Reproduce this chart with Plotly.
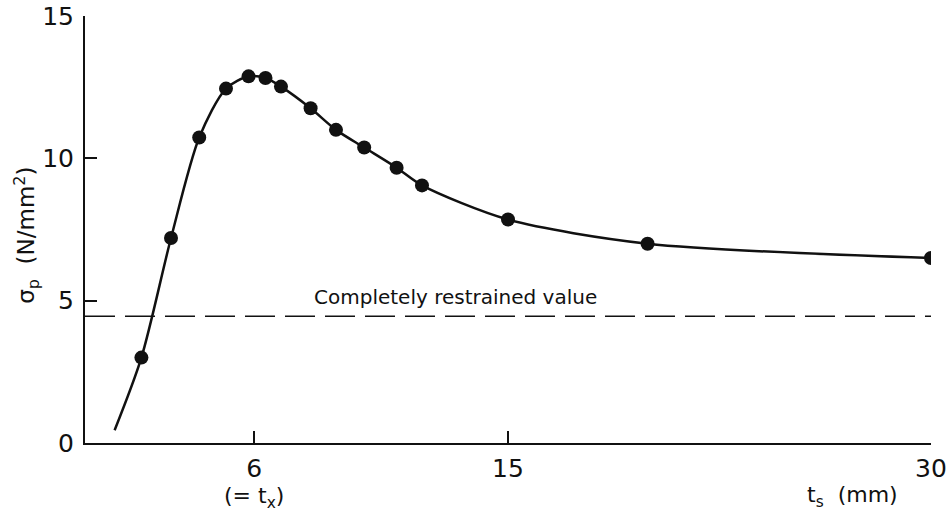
import plotly.graph_objects as go

# Data
ts_points = [2.0, 3.05, 4.05, 5.0, 5.8, 6.4, 6.95, 8.0, 8.9, 9.9, 11.05, 11.95, 15.0, 19.95, 30.0]
sigma_points = [3.0, 7.2, 10.73, 12.45, 12.88, 12.82, 12.52, 11.76, 11.0, 10.38, 9.67, 9.05, 7.85, 7.0, 6.5]

curve_start_ts = [1.05]
curve_start_sigma = [0.45]

restrained_value = 4.45
restrained_label = "Completely restrained value"

x_ticks = [6, 15, 30]
y_ticks = [0, 5, 10, 15]

FONT = "DejaVu Sans, sans-serif"
INK = "#111111"

fig = go.Figure()

fig.add_trace(go.Scatter(
    x=curve_start_ts + ts_points,
    y=curve_start_sigma + sigma_points,
    mode="lines",
    line=dict(color=INK, width=2.5, shape="spline", smoothing=0.8),
    hoverinfo="skip",
    showlegend=False,
))

fig.add_trace(go.Scatter(
    x=ts_points,
    y=sigma_points,
    mode="markers",
    marker=dict(color=INK, size=14),
    showlegend=False,
))

fig.add_shape(type="line", xref="x", yref="y", x0=0, x1=30,
              y0=restrained_value, y1=restrained_value,
              line=dict(color=INK, width=1.5, dash="30px,10px"))

fig.add_annotation(x=13.15, y=restrained_value, xref="x", yref="y",
                   text=restrained_label, showarrow=False,
                   yanchor="bottom", yshift=5,
                   font=dict(family=FONT, size=20, color=INK))

fig.add_annotation(x=-0.07, y=0.487, xref="paper", yref="paper",
                   text="σ<sub>p</sub>  (N/mm<sup>2</sup>)", textangle=-90,
                   xanchor="center", yanchor="middle",
                   showarrow=False, font=dict(family=FONT, size=23, color=INK))

fig.add_annotation(x=6, y=-0.128, xref="x", yref="paper",
                   text="(= t<sub>x</sub>)", showarrow=False,
                   xanchor="center", yanchor="middle",
                   font=dict(family=FONT, size=22, color=INK))

fig.add_annotation(x=27.2, y=-0.125, xref="x", yref="paper",
                   text="t<sub>s</sub>  (mm)", showarrow=False,
                   xanchor="center", yanchor="middle",
                   font=dict(family=FONT, size=22, color=INK))

fig.update_layout(
    width=951, height=513,
    margin=dict(l=85, r=20, t=16, b=70),
    paper_bgcolor="white", plot_bgcolor="white",
    font=dict(family=FONT, size=25, color=INK),
    xaxis=dict(range=[0, 30], tickvals=x_ticks, ticks="inside", ticklen=12,
               tickwidth=1.5, tickcolor=INK, showline=True, linecolor=INK,
               linewidth=2, showgrid=False, zeroline=False, automargin=False,
               ticklabelstandoff=2, ticklabeloverflow="allow",
               tickfont=dict(family=FONT, size=25, color=INK)),
    yaxis=dict(range=[0, 15], tickvals=y_ticks, ticks="inside", ticklen=12,
               tickwidth=1.5, tickcolor=INK, showline=True, linecolor=INK,
               linewidth=2, showgrid=False, zeroline=False, automargin=False,
               ticklabelstandoff=4, ticklabeloverflow="allow",
               tickfont=dict(family=FONT, size=25, color=INK)),
)

# Remove the default page margin so the figure fills the window exactly.
fig.write_html("out.html", config={"displayModeBar": False},
               post_script="document.body.style.margin='0';")
